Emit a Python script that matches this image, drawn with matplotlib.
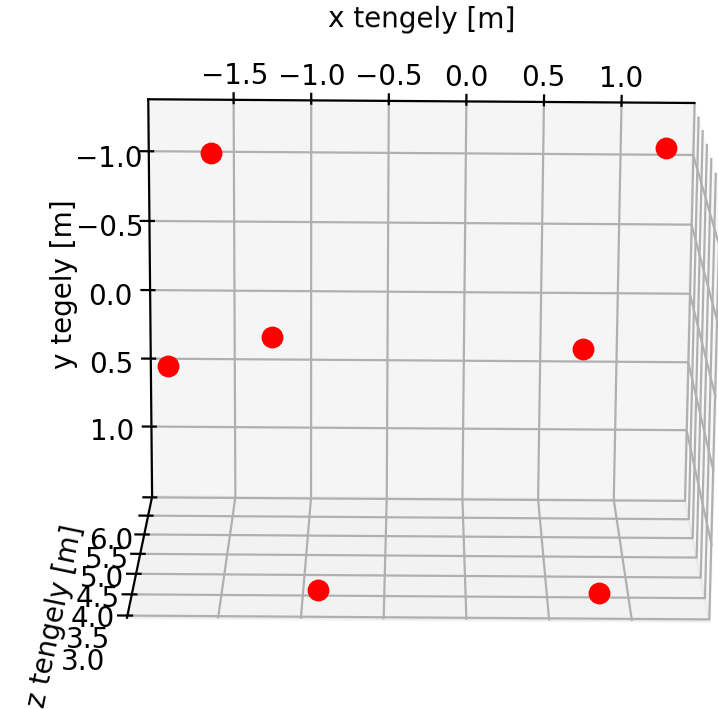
import matplotlib
matplotlib.use("Agg")
import matplotlib.pyplot as plt
import numpy as np

# data (x, y, z) in metres
x_vals = [-1.63, 1.27, -1.25, 0.77, -1.92, -0.90, 0.81]
y_vals = [-1.09, -1.13, 0.26, 0.33, 0.48, 1.42, 1.40]
z_vals = [5.5, 5.6, 5.7, 5.7, 5.7, 3.3, 3.2]

x_ticks = [-1.5, -1.0, -0.5, 0.0, 0.5, 1.0]
y_ticks = [-1.0, -0.5, 0.0, 0.5, 1.0]
z_ticks = [3.0, 3.5, 4.0, 4.5, 5.0, 5.5, 6.0]

fig = plt.figure(figsize=(3.59, 3.545), dpi=200)
ax = fig.add_axes([0.0125, -0.069, 1.115, 1.115], projection='3d')
ax.set_box_aspect((4, 3.04, 2.85))
ax.scatter(x_vals, y_vals, z_vals, c='red', s=47, depthshade=False, alpha=1)
ax.set_xlim(-2.05, 1.47)
ax.set_ylim(-1.37, 1.52)
ax.set_zlim(2.95, 6.02)
ax.set_xticks(x_ticks)
ax.set_yticks(y_ticks)
ax.set_zticks(z_ticks)
ax.set_xlabel('x tengely [m]')
ax.yaxis.set_rotate_label(False)
ax.set_ylabel('y tegely [m]', rotation=90)
ax.set_zlabel('z tengely [m]', labelpad=2)
ax.view_init(elev=-75, azim=-90.4)
fig.savefig('out.png', dpi=200)
